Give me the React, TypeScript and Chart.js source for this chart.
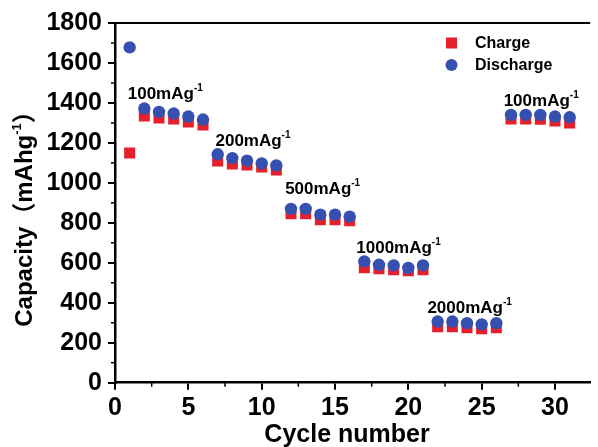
import React, { useEffect, useRef } from "react";
import { Chart, registerables } from "chart.js";

Chart.register(...registerables);

const cycles = [1,2,3,4,5,6,7,8,9,10,11,12,13,14,15,16,17,18,19,20,21,22,23,24,25,26,27,28,29,30,31];
const charge = [1150,1335,1325,1320,1305,1290,1110,1095,1090,1080,1065,845,845,815,815,810,575,570,565,560,565,280,280,275,270,275,1320,1320,1318,1310,1300];
const discharge = [1678,1372,1355,1347,1332,1317,1143,1124,1111,1097,1087,870,870,841,841,831,607,590,587,574,587,306,306,298,292,298,1340,1340,1340,1332,1328];

const rateLabels = ["100mAg", "200mAg", "500mAg", "1000mAg", "2000mAg", "100mAg"];
const rateX = [0.87, 6.85, 11.6, 16.45, 21.3, 26.5];
const rateY = [1422, 1184, 942, 649, 348, 1385];

const xTicksMinor = [2.5, 7.5, 12.5, 17.5, 22.5, 27.5, 32.5];
const yTicksMinor = [100, 300, 500, 700, 900, 1100, 1300, 1500, 1700];

const RED = "#e5202b";
const BLUE = "#3550b0";
const FONT = "'Liberation Sans', Arial, 'Noto Sans CJK SC', sans-serif";

const overlay = {
  id: "overlay",
  afterDraw(chart: any) {
    const { ctx, chartArea, scales } = chart;
    const x = scales.x, y = scales.y;
    ctx.save();
    ctx.strokeStyle = "#000";
    ctx.lineWidth = 2;
    ctx.beginPath();
    ctx.moveTo(chartArea.left, chartArea.top);
    ctx.lineTo(chartArea.right, chartArea.top);
    ctx.stroke();
    ctx.lineWidth = 1.5;
    yTicksMinor.forEach((v) => {
      const py = y.getPixelForValue(v);
      ctx.beginPath();
      ctx.moveTo(chartArea.left - 4, py);
      ctx.lineTo(chartArea.left, py);
      ctx.stroke();
    });
    xTicksMinor.forEach((v) => {
      if (v > x.max) return;
      const px = x.getPixelForValue(v);
      ctx.beginPath();
      ctx.moveTo(px, chartArea.bottom);
      ctx.lineTo(px, chartArea.bottom + 4);
      ctx.stroke();
    });
    ctx.fillStyle = "#000";
    ctx.textBaseline = "alphabetic";
    ctx.textAlign = "left";
    rateLabels.forEach((t, i) => {
      const px = x.getPixelForValue(rateX[i]);
      const py = y.getPixelForValue(rateY[i]);
      ctx.font = `bold 17px ${FONT}`;
      ctx.fillText(t, px, py);
      const w = ctx.measureText(t).width;
      ctx.font = `bold 10px ${FONT}`;
      ctx.fillText("-1", px + w, py - 8);
    });
    const lx = 451.5;
    ctx.fillStyle = RED;
    ctx.fillRect(lx - 5.5, 43 - 5.5, 11, 11);
    ctx.fillStyle = BLUE;
    ctx.beginPath();
    ctx.arc(lx, 65, 6, 0, Math.PI * 2);
    ctx.fill();
    ctx.fillStyle = "#000";
    ctx.font = `bold 16px ${FONT}`;
    ctx.textBaseline = "middle";
    ctx.fillText("Charge", 475, 44);
    ctx.fillText("Discharge", 475, 66);
    ctx.font = `bold 25px ${FONT}`;
    ctx.textAlign = "center";
    ctx.textBaseline = "alphabetic";
    ctx.fillText("Cycle number", 347, 442);
    ctx.translate(32, 213);
    ctx.rotate(-Math.PI / 2);
    const parts = [
      { t: "Capacity", f: `bold 24px ${FONT}`, dy: 0 },
      { t: "（", f: `bold 24px ${FONT}`, dy: 0 },
      { t: "mAhg", f: `bold 24px ${FONT}`, dy: 0 },
      { t: "-1", f: `bold 13px ${FONT}`, dy: -11 },
      { t: "）", f: `bold 24px ${FONT}`, dy: 0 },
    ];
    let total = 0;
    const widths = parts.map((p) => {
      ctx.font = p.f;
      const w = ctx.measureText(p.t).width;
      total += w;
      return w;
    });
    let cx = -total / 2;
    ctx.textAlign = "left";
    parts.forEach((p, i) => {
      ctx.font = p.f;
      ctx.fillText(p.t, cx, p.dy);
      cx += widths[i];
    });
    ctx.restore();
  },
};

export default function App() {
  const ref = useRef<HTMLCanvasElement>(null);
  useEffect(() => {
    if (!ref.current) return;
    const chart = new Chart(ref.current, {
      type: "scatter",
      data: {
        datasets: [
          {
            label: "Discharge",
            data: cycles.map((c, i) => ({ x: c, y: discharge[i] })),
            pointStyle: "circle",
            pointRadius: 6.2,
            backgroundColor: BLUE,
            borderColor: BLUE,
            borderWidth: 0,
            order: 0,
          },
          {
            label: "Charge",
            data: cycles.map((c, i) => ({ x: c, y: charge[i] })),
            pointStyle: "rect",
            pointRadius: 7.8,
            backgroundColor: RED,
            borderColor: RED,
            borderWidth: 0,
            order: 1,
          },
        ],
      },
      options: {
        responsive: false,
        animation: false,
        layout: { padding: { top: 23, right: 0, left: 0, bottom: 0 } },
        plugins: { legend: { display: false }, tooltip: { enabled: false } },
        scales: {
          x: {
            type: "linear",
            min: 0,
            max: 32.4,
            afterFit: (s: any) => { s.height = 64.3; },
            ticks: {
              stepSize: 5,
              includeBounds: false,
              color: "#000",
              padding: 3,
              callback: (v: any) => String(v),
              font: { family: FONT, weight: "bold", size: 25 },
            },
            grid: { display: true, drawOnChartArea: false, drawTicks: true, tickLength: 7, color: "#000", lineWidth: 2 },
            border: { display: true, color: "#000", width: 2.5 },
          },
          y: {
            min: 0,
            max: 1800,
            afterFit: (s: any) => { s.width = 115; },
            ticks: {
              stepSize: 200,
              color: "#000",
              padding: 6,
              callback: (v: any) => String(v),
              font: { family: FONT, weight: "bold", size: 25 },
            },
            grid: { display: true, drawOnChartArea: false, drawTicks: true, tickLength: 7, color: "#000", lineWidth: 2 },
            border: { display: true, color: "#000", width: 2.5 },
          },
        },
      },
      plugins: [overlay],
    });
    return () => chart.destroy();
  }, []);
  return (
    <div style={{ position: "fixed", left: 0, top: 0, width: 598, height: 447, background: "#fff" }}>
      <canvas ref={ref} width={598} height={447} style={{ width: 598, height: 447, display: "block" }} />
    </div>
  );
}
